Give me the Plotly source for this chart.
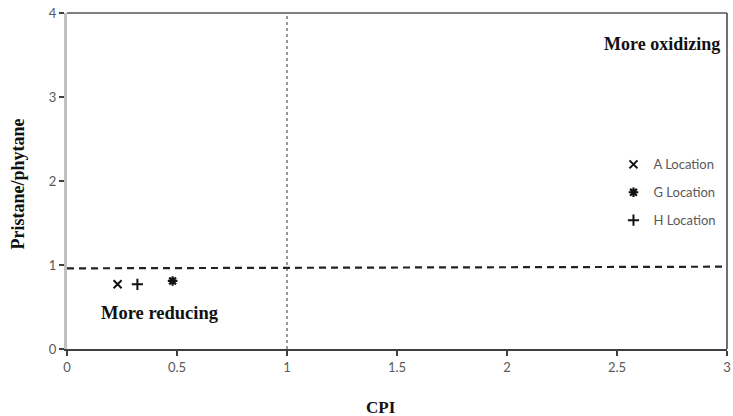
import plotly.graph_objects as go

# Data
a_cpi = [0.23]
a_pr = [0.77]
g_cpi = [0.48]
g_pr = [0.81]
h_cpi = [0.32]
h_pr = [0.77]

series_names = ["A Location", "G Location", "H Location"]

x_ticks = [0, 0.5, 1, 1.5, 2, 2.5, 3]
x_labels = ["0", "0.5", "1", "1.5", "2", "2.5", "3"]
y_ticks = [0, 1, 2, 3, 4]
y_labels = ["0", "1", "2", "3", "4"]

cpi_split = 1.0
pr_split_left = 0.96
pr_split_right = 0.98

fig = go.Figure()
fig.add_trace(go.Scatter(x=a_cpi, y=a_pr, mode="markers", name=series_names[0],
                         legendgroup="a",
                         marker=dict(symbol="x-thin", size=8, line=dict(width=2, color="#111111"), color="#111111")))
fig.add_trace(go.Scatter(x=g_cpi, y=g_pr, mode="markers", name=series_names[1],
                         legendgroup="g",
                         marker=dict(symbol="asterisk", size=8, angle=45, line=dict(width=2.2, color="#111111"), color="#111111")))
fig.add_trace(go.Scatter(x=h_cpi, y=h_pr, mode="markers", name=series_names[2],
                         legendgroup="h",
                         marker=dict(symbol="cross-thin", size=8, line=dict(width=2, color="#111111"), color="#111111")))

# Reference lines
fig.add_shape(type="line", xref="x", yref="y", x0=0, x1=3, y0=pr_split_left, y1=pr_split_right,
              line=dict(color="#222222", width=2.2, dash="7px,5px"))
fig.add_shape(type="line", xref="x", yref="y", x0=cpi_split, x1=cpi_split, y0=0, y1=4,
              line=dict(color="#333333", width=1, dash="dot"))
# top and right border
fig.add_shape(type="line", xref="paper", yref="paper", x0=0, x1=1, y0=1, y1=1,
              line=dict(color="#7f7f7f", width=2))
fig.add_shape(type="line", xref="paper", yref="paper", x0=1, x1=1, y0=0, y1=1,
              line=dict(color="#404040", width=1.5))

fig.add_annotation(text="<b>More oxidizing</b>", xref="paper", yref="paper", x=0.992, y=0.908,
                   xanchor="right", yanchor="middle", showarrow=False,
                   font=dict(family="Liberation Serif", size=18, color="#111111"))
fig.add_annotation(text="<b>More reducing</b>", xref="paper", yref="paper", x=0.048, y=0.107,
                   xanchor="left", yanchor="middle", showarrow=False,
                   font=dict(family="Liberation Serif", size=18.5, color="#111111"))
fig.add_annotation(text="<b>CPI</b>", xref="paper", yref="paper", x=0.476, y=-0.175,
                   xanchor="center", yanchor="middle", showarrow=False,
                   font=dict(family="Liberation Serif", size=17, color="#111111"))
fig.add_annotation(text="<b>Pristane/phytane</b>", xref="paper", yref="paper", x=-0.074, y=0.49,
                   xanchor="center", yanchor="middle", showarrow=False, textangle=-90,
                   font=dict(family="Liberation Serif", size=18, color="#111111"))

fig.update_layout(
    width=733, height=416,
    margin=dict(l=67, r=2, t=13, b=67),
    paper_bgcolor="white", plot_bgcolor="white",
    showlegend=True,
    legend=dict(x=0.828, y=0.594, xanchor="left", yanchor="top",
                bgcolor="rgba(0,0,0,0)", tracegroupgap=8,
                font=dict(family="Lato", size=13, color="#595959"),
                itemwidth=30),
    xaxis=dict(range=[0, 3], tickvals=x_ticks, ticktext=x_labels, showgrid=False, zeroline=False,
               showline=True, linecolor="#404040", linewidth=2, ticks="outside", ticklen=5,
               tickcolor="#404040", tickwidth=1.5, ticklabeloverflow="allow",
               tickfont=dict(family="Lato", size=13, color="#595959")),
    yaxis=dict(range=[0, 4], tickvals=y_ticks, ticktext=y_labels, showgrid=False, zeroline=False,
               showline=True, linecolor="#c0c0c0", linewidth=3, ticks="outside", ticklen=5,
               tickcolor="#404040", tickwidth=1.5,
               tickfont=dict(family="Lato", size=13, color="#595959")),
)

fig.write_html("out.html")
